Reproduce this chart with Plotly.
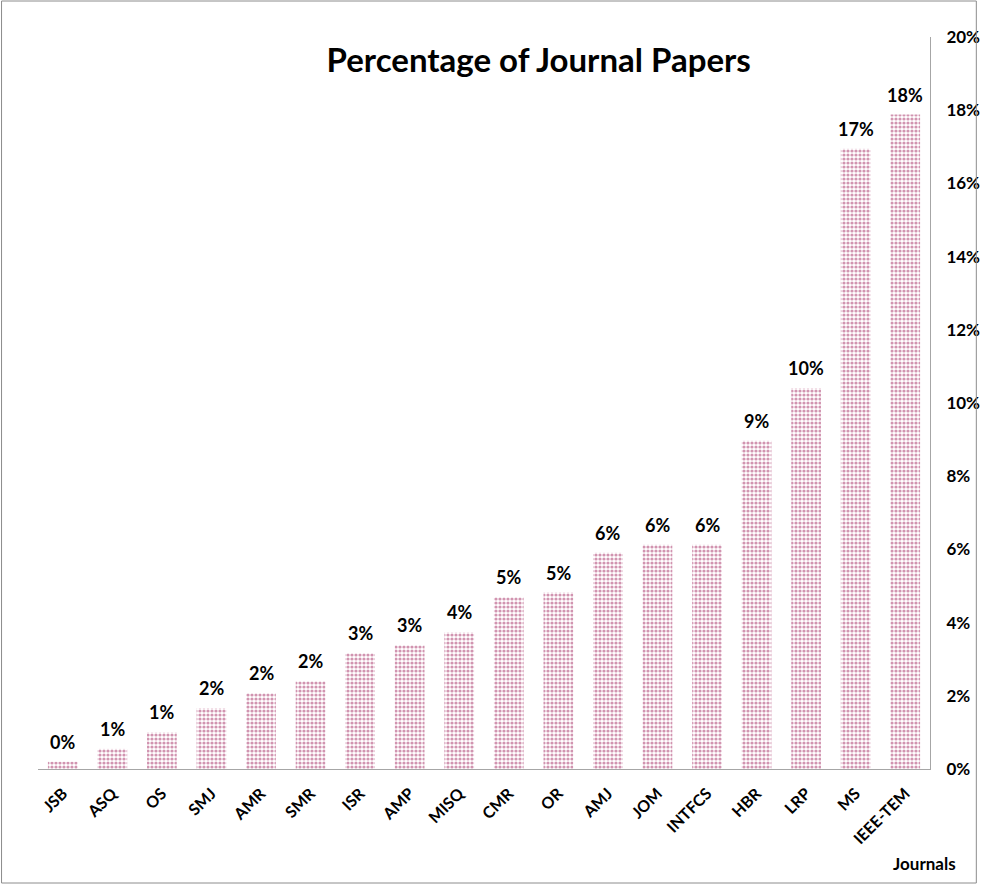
import plotly.graph_objects as go

journals = ["JSB", "ASQ", "OS", "SMJ", "AMR", "SMR", "ISR", "AMP", "MISQ", "CMR",
            "OR", "AMJ", "JOM", "INTFCS", "HBR", "LRP", "MS", "IEEE-TEM"]
share = [0.0020, 0.0055, 0.0100, 0.0166, 0.0207, 0.0240, 0.0316, 0.0338, 0.0373, 0.0469,
         0.0482, 0.0591, 0.0613, 0.0613, 0.0897, 0.1040, 0.1695, 0.1788]
y_ticks = [0, 0.02, 0.04, 0.06, 0.08, 0.10, 0.12, 0.14, 0.16, 0.18, 0.20]

FONT = "Lato"

fig = go.Figure(go.Bar(
    x=journals,
    y=share,
    width=0.6,
    marker=dict(
        color="white",
        line=dict(width=0),
        pattern=dict(shape=".", fgcolor="#a42a62", bgcolor="white", size=4, solidity=0.5),
    ),
    hoverinfo="x+y",
))

W, H = 992, 886
L, R, T, B = 38, 49, 37, 117
pw, ph = W - L - R, H - T - B

def px(x):
    return (x - L) / pw

def py(y):
    return (H - B - y) / ph

value_labels = [dict(x=j, y=v, text=f"<b>{v:.0%}</b>", xref="x", yref="y",
                     yanchor="bottom", yshift=7, showarrow=False,
                     font=dict(family=FONT, size=18, color="black"))
                for j, v in zip(journals, share)]

fig.update_layout(
    width=W, height=H, autosize=False,
    margin=dict(l=L, r=R, t=T, b=B),
    paper_bgcolor="white", plot_bgcolor="white",
    showlegend=False,
    font=dict(family=FONT, color="black"),
    title=dict(text="<b>Percentage of Journal Papers</b>", x=px(546), xref="paper",
               xanchor="center", y=1 - 60 / H, yanchor="middle",
               font=dict(family=FONT, size=33, color="black")),
    xaxis=dict(showline=True, linecolor="#a6a6a6", linewidth=1, showgrid=False,
               tickangle=-45, ticks="", ticklabelstandoff=8,
               tickfont=dict(family=FONT, size=16, weight="bold"),
               range=[-0.5, len(journals) - 0.5]),
    yaxis=dict(side="right", range=[0, 0.2], tickvals=y_ticks, tickformat=".0%",
               showline=True, linecolor="#a6a6a6", linewidth=1, showgrid=False,
               zeroline=False, ticks="outside", ticklen=12, tickcolor="rgba(0,0,0,0)",
               tickfont=dict(family=FONT, size=17, weight="bold")),
    shapes=[dict(type="rect", xref="paper", yref="paper",
                 x0=px(1), x1=px(990), y0=py(883), y1=py(1),
                 line=dict(color="#8c8c8c", width=1), fillcolor="rgba(0,0,0,0)")],
    annotations=value_labels + [dict(text="<b>Journals</b>", xref="paper", yref="paper",
                      x=px(937), y=py(863), xanchor="center", yanchor="middle",
                      showarrow=False, font=dict(family=FONT, size=17, color="black"))],
)

fig.write_html(
    "out.html",
    config={"displayModeBar": False, "responsive": False},
    post_script=("document.body.style.margin='0';"
                 "document.body.style.overflow='hidden';"
                 "document.documentElement.style.overflow='hidden';"),
)
